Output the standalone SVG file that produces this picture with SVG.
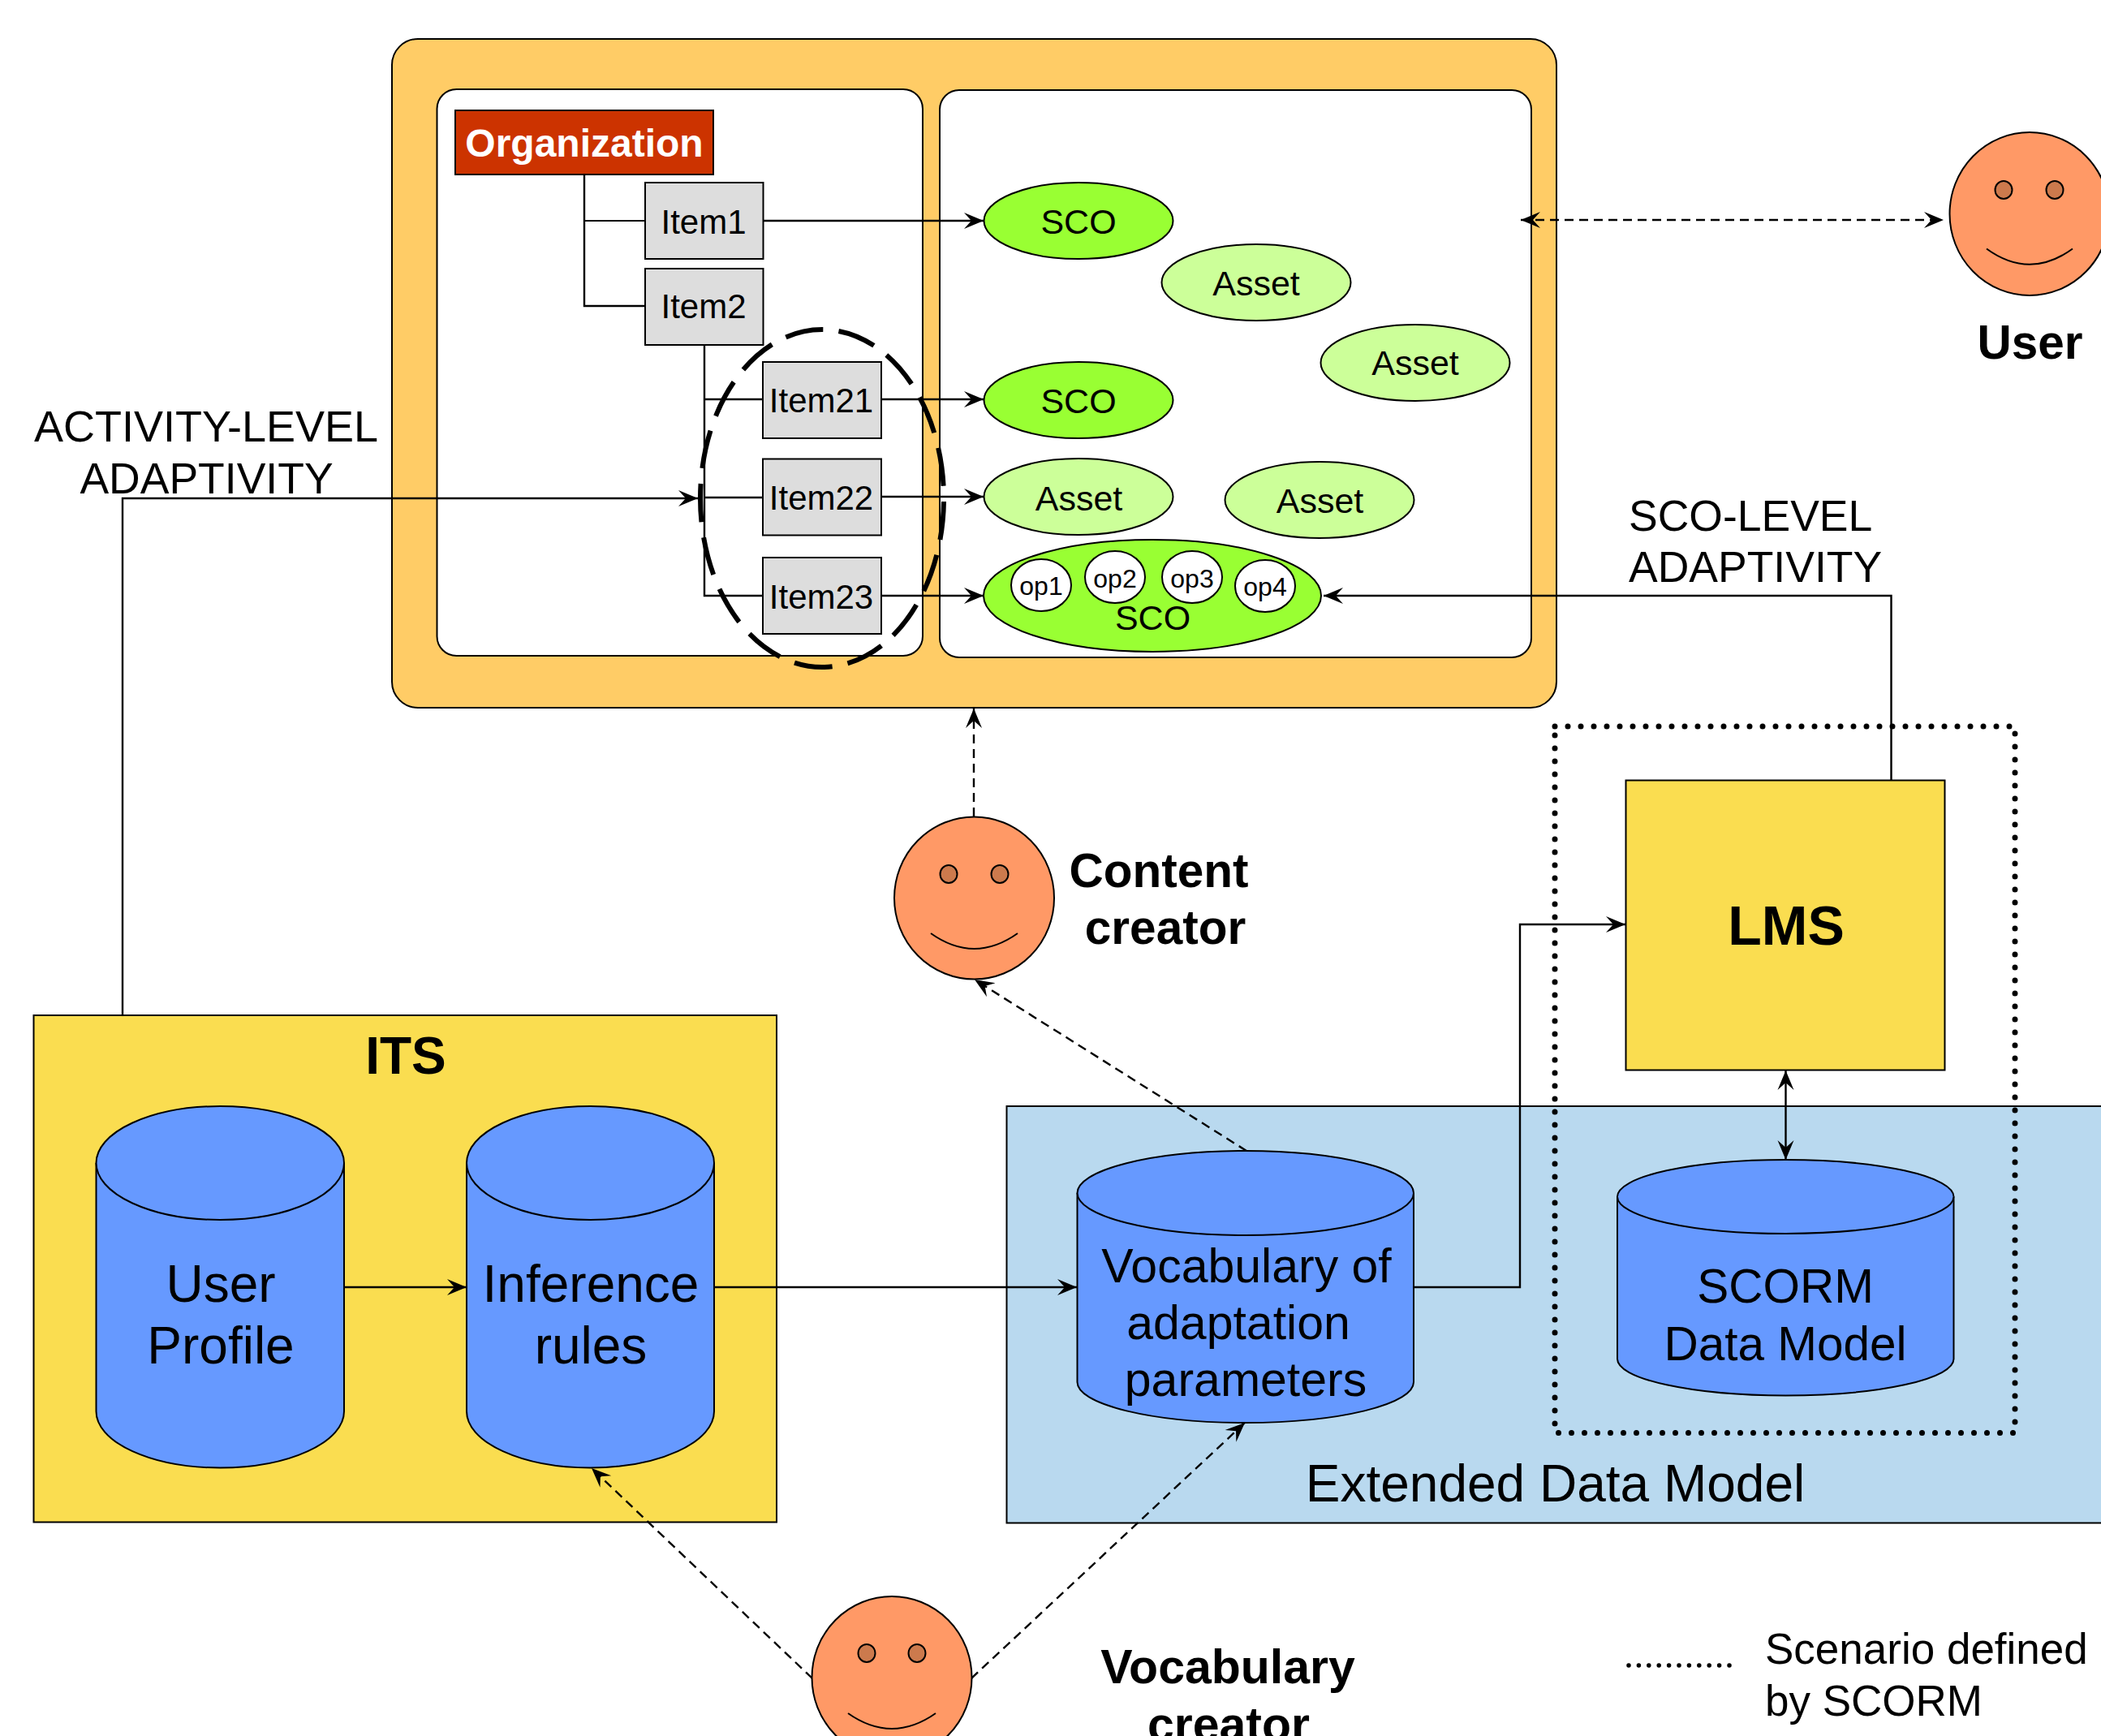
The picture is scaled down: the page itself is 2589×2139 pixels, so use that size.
<svg xmlns="http://www.w3.org/2000/svg" width="2589" height="2139" viewBox="0 0 2589 2139">
<style>
text{font-family:"Liberation Sans",Arial,sans-serif;fill:#000;text-anchor:middle}
.b{font-weight:bold}
.l{fill:none;stroke:#000;stroke-width:2.4}
.d{stroke-dasharray:11 7}
.item{fill:#dddddd;stroke:#000;stroke-width:2}
.item-t{font-size:42px}
.sco{fill:#99ff33;stroke:#000;stroke-width:2}
.asset{fill:#ccff99;stroke:#000;stroke-width:2}
.op{fill:#fff;stroke:#000;stroke-width:2}
.face{fill:#ff9966;stroke:#000;stroke-width:2}
.eye{fill:#cc7a4d;stroke:#000;stroke-width:2}
.cyl{fill:#6699ff;stroke:#000;stroke-width:2}
.f43{font-size:43px}
.f30{font-size:32px}
</style>
<defs>
<marker id="a" markerUnits="userSpaceOnUse" markerWidth="26" markerHeight="24" viewBox="-24 -12 26 24" refX="0" refY="0" orient="auto-start-reverse"><path d="M0 0L-24-10L-15 0L-24 10Z" fill="#000"/></marker>
</defs>
<g id="package">
<rect x="483" y="48" width="1435" height="824" rx="32" fill="#ffcc66" stroke="#000" stroke-width="2"/>
<rect x="538.500" y="110" width="598.500" height="698" rx="24" fill="#fff" stroke="#000" stroke-width="2"/>
<rect x="1158" y="111" width="729" height="699" rx="24" fill="#fff" stroke="#000" stroke-width="2"/>
</g>
<g id="its"><rect x="41.500" y="1251" width="915.500" height="624.500" fill="#fadd50" stroke="#000" stroke-width="2"/><text class="b" x="500" y="1323" font-size="64">ITS</text></g>
<g id="edm"><rect x="1240.500" y="1363" width="1360" height="513.500" fill="#b9d9ef" stroke="#000" stroke-width="2"/><text x="1916.500" y="1850" font-size="64">Extended Data Model</text></g>
<g id="connectors">
<path class="l" d="M720 215V377H795"/>
<path d="M720 272H795" fill="none" stroke="#000" stroke-width="2"/>
<path class="l" d="M868 425V734H940M868 492H940M868 613H940"/>
<path class="l" d="M941 272H1212" marker-end="url(#a)"/>
<path class="l" d="M1086 492H1212" marker-end="url(#a)"/>
<path class="l" d="M1086 612H1212" marker-end="url(#a)"/>
<path class="l" d="M1086 734H1212" marker-end="url(#a)"/>
<path class="l" d="M151 1251V614H860" marker-end="url(#a)"/>
<path class="l" d="M2330.500 961V734H1631" marker-end="url(#a)"/>
<path class="l d" d="M1874 271H2395" marker-start="url(#a)" marker-end="url(#a)"/>
<path class="l d" d="M1200 1006V873" marker-end="url(#a)"/>
<path class="l d" d="M1536 1418L1201 1207" marker-end="url(#a)"/>
<path class="l d" d="M1197 2068L1534 1753" marker-end="url(#a)"/>
<path class="l d" d="M1001 2068L729 1809" marker-end="url(#a)"/>
<path class="l" d="M424 1586H575" marker-end="url(#a)"/>
<path class="l" d="M880 1586H1327" marker-end="url(#a)"/>
<path class="l" d="M1742 1586H1873V1139H2003" marker-end="url(#a)"/>
<path class="l" d="M2200.500 1319V1429" marker-start="url(#a)" marker-end="url(#a)"/>
</g>
<g id="organization"><rect x="561" y="136" width="318" height="79" fill="#cc3300" stroke="#000" stroke-width="2"/><text class="b" x="720" y="192.500" font-size="48" style="fill:#fff">Organization</text></g>
<g id="item1"><rect class="item" x="795" y="225" width="145.500" height="94"/><text class="item-t" x="867" y="288">Item1</text></g>
<g id="item2"><rect class="item" x="795" y="331" width="145.500" height="94"/><text class="item-t" x="867" y="392">Item2</text></g>
<g id="item21"><rect class="item" x="940" y="446" width="146" height="94"/><text class="item-t" x="1012" y="508">Item21</text></g>
<g id="item22"><rect class="item" x="940" y="565.500" width="146" height="94"/><text class="item-t" x="1012" y="628">Item22</text></g>
<g id="item23"><rect class="item" x="940" y="687" width="146" height="94"/><text class="item-t" x="1012" y="750">Item23</text></g>
<g id="sco1"><ellipse class="sco" cx="1329" cy="272" rx="116.500" ry="47"/><text class="f43" x="1329" y="288">SCO</text></g>
<g id="asset1"><ellipse class="asset" cx="1548" cy="348" rx="116.500" ry="47"/><text class="f43" x="1548" y="364">Asset</text></g>
<g id="asset2"><ellipse class="asset" cx="1744" cy="447" rx="116.500" ry="47"/><text class="f43" x="1744" y="462">Asset</text></g>
<g id="sco2"><ellipse class="sco" cx="1329" cy="493" rx="116.500" ry="47"/><text class="f43" x="1329" y="509">SCO</text></g>
<g id="asset3"><ellipse class="asset" cx="1329" cy="612" rx="116.500" ry="47"/><text class="f43" x="1329.500" y="629">Asset</text></g>
<g id="asset4"><ellipse class="asset" cx="1626" cy="616" rx="116.500" ry="47"/><text class="f43" x="1626.500" y="632">Asset</text></g>
<g id="sco3"><ellipse class="sco" cx="1420" cy="734" rx="208" ry="69"/><text class="f43" x="1420.500" y="776">SCO</text>
<ellipse class="op" cx="1283" cy="721" rx="37" ry="32"/><text class="f30" x="1283" y="733">op1</text>
<ellipse class="op" cx="1374" cy="711" rx="37" ry="32"/><text class="f30" x="1374" y="724">op2</text>
<ellipse class="op" cx="1469" cy="711" rx="37" ry="32"/><text class="f30" x="1469" y="724">op3</text>
<ellipse class="op" cx="1559" cy="722" rx="37" ry="32"/><text class="f30" x="1559" y="734">op4</text></g>
<g id="activity-scope"><ellipse cx="1013" cy="614" rx="150" ry="208" fill="none" stroke="#000" stroke-width="6" pathLength="1700" stroke-dasharray="71 29" stroke-dashoffset="94"/></g>
<g id="user"><ellipse class="face" cx="2501" cy="263.500" rx="98.500" ry="100.500"/><ellipse class="eye" cx="2469" cy="234" rx="10.500" ry="11"/><ellipse class="eye" cx="2532" cy="234" rx="10.500" ry="11"/><path d="M2448 306.500Q2501 345 2554 306.500" fill="none" stroke="#000" stroke-width="2"/><text class="b" x="2501.500" y="441.500" font-size="58.500">User</text></g>
<g id="content-creator"><ellipse class="face" cx="1200.500" cy="1106.500" rx="98.500" ry="100"/><ellipse class="eye" cx="1169" cy="1077" rx="10.500" ry="11"/><ellipse class="eye" cx="1232" cy="1077" rx="10.500" ry="11"/><path d="M1147 1150Q1200.500 1188 1254 1150" fill="none" stroke="#000" stroke-width="2"/><text class="b" x="1428" y="1093" font-size="58.500">Content</text><text class="b" x="1436" y="1163" font-size="58.500">creator</text></g>
<g id="vocabulary-creator"><ellipse class="face" cx="1099" cy="2067" rx="98.500" ry="100"/><ellipse class="eye" cx="1068" cy="2037" rx="10.500" ry="11"/><ellipse class="eye" cx="1130" cy="2037" rx="10.500" ry="11"/><path d="M1045 2111Q1099 2149 1153 2111" fill="none" stroke="#000" stroke-width="2"/><text class="b" x="1513" y="2074" font-size="59">Vocabulary</text><text class="b" x="1514" y="2145" font-size="59">creator</text></g>
<g id="user-profile"><path class="cyl" d="M118.500 1433A152.750 70 0 0 1 424 1433V1739A152.750 69.500 0 0 1 118.500 1739Z"/><path class="cyl" d="M118.500 1433A152.750 70 0 0 0 424 1433" fill="none"/><text x="272" y="1604" font-size="64">User</text><text x="272" y="1680" font-size="64">Profile</text></g>
<g id="inference-rules"><path class="cyl" d="M575 1433A152.500 70 0 0 1 880 1433V1739A152.500 69.500 0 0 1 575 1739Z"/><path class="cyl" d="M575 1433A152.500 70 0 0 0 880 1433" fill="none"/><text x="728" y="1604" font-size="64">Inference</text><text x="728" y="1680" font-size="64">rules</text></g>
<g id="vocabulary"><path class="cyl" d="M1327.500 1470A207.250 52 0 0 1 1742 1470V1703A207.250 50 0 0 1 1327.500 1703Z"/><path class="cyl" d="M1327.500 1470A207.250 52 0 0 0 1742 1470" fill="none"/><text x="1536" y="1580" font-size="59">Vocabulary of</text><text x="1526" y="1650" font-size="59">adaptation</text><text x="1535" y="1720" font-size="59">parameters</text></g>
<g id="scorm"><path class="cyl" d="M1993 1474.500A207.250 45.500 0 0 1 2407.500 1474.500V1674.500A207.250 45 0 0 1 1993 1674.500Z"/><path class="cyl" d="M1993 1474.500A207.250 45.500 0 0 0 2407.500 1474.500" fill="none"/><text x="2200" y="1605" font-size="58.500">SCORM</text><text x="2200" y="1676" font-size="58.500">Data Model</text></g>
<g id="lms"><rect x="2003.500" y="961.500" width="393" height="357" fill="#fadd50" stroke="#000" stroke-width="2"/><text class="b" x="2201" y="1164" font-size="68">LMS</text></g>
<g id="scorm-scope"><rect x="1916" y="895" width="567" height="870.500" fill="none" stroke="#000" stroke-width="7" stroke-linecap="round" stroke-dasharray="0 16"/></g>
<g id="labels">
<text x="254" y="544" font-size="54">ACTIVITY-LEVEL</text><text x="254.500" y="607.500" font-size="53.500">ADAPTIVITY</text>
<text x="2007" y="654" font-size="53.500" style="text-anchor:start">SCO-LEVEL</text><text x="2007" y="717" font-size="53.500" style="text-anchor:start">ADAPTIVITY</text>
<path d="M2007 2052H2133" fill="none" stroke="#000" stroke-width="5.500" stroke-linecap="round" stroke-dasharray="0 12.400"/>
<text x="2175" y="2050" font-size="53" style="text-anchor:start">Scenario defined</text><text x="2175" y="2114" font-size="53" style="text-anchor:start">by SCORM</text>
</g>
</svg>
